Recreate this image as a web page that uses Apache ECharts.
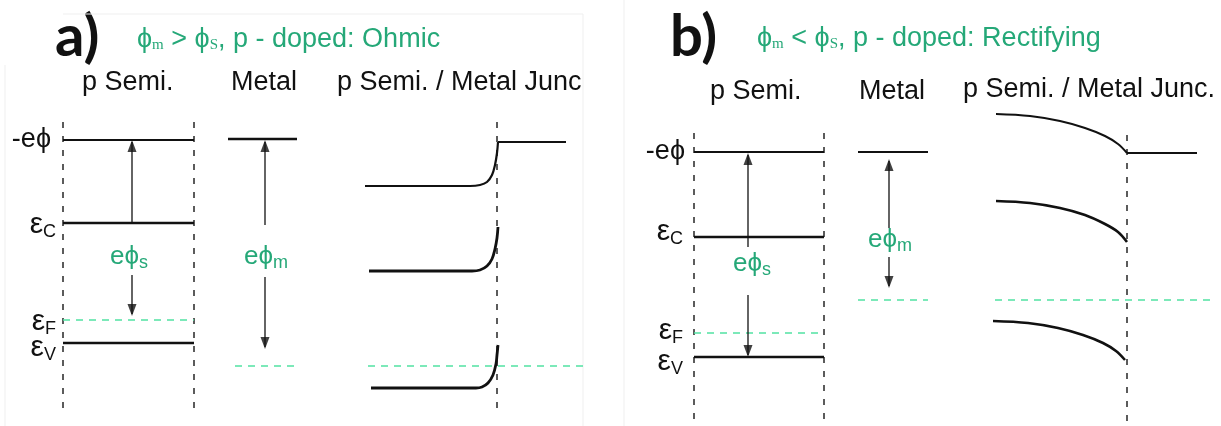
<!DOCTYPE html>
<html>
<head>
<meta charset="utf-8">
<script src="https://cdn.jsdelivr.net/npm/echarts@6/dist/echarts.min.js"></script>
<style>
  html, body { margin: 0; padding: 0; background: #fff; }
  #c { width: 1221px; height: 426px; }
</style>
</head>
<body>
<div id="c"></div>
<script>
// Energy-band diagrams of a p-type semiconductor / metal contact.
// The plot area fills the canvas: x runs left to right, level positions run
// top to bottom (a higher energy has a smaller value on the inverted y axis).

// ---------- panel a: phi_m > phi_s, Ohmic ----------
const aSemiEdges   = [63, 194];
const aSemiVac     = 140;
const aSemiEc      = 223;
const aSemiEf      = 320;
const aSemiEv      = 343;
const aMetalEdges  = [228, 297];
const aMetalVac    = 139;
const aMetalEf     = 366;
const aJunction    = 497;
const aJuncVac     = [[365, 186], [470, 186], [480, 185], [487, 182], [492, 175], [495, 165], [497, 153], [498, 142]];
const aJuncVacMetal = [[498, 142], [566, 142]];
const aJuncEc      = [[369, 271], [472, 271], [480, 270], [487, 266], [492, 259], [495, 249], [497, 238], [498, 227]];
const aJuncEv      = [[371, 388], [476, 388], [482, 387], [488, 383], [493, 375], [496, 364], [497, 355], [498, 345]];
const aJuncEf      = [368, 583];
const aArrowSemi   = [132, 223, 140, 275, 316];   // x, up from, up tip, down from, down tip
const aArrowMetal  = [265, 225, 140, 277, 349];

// ---------- panel b: phi_m < phi_s, Rectifying ----------
const bSemiEdges   = [694, 824];
const bSemiVac     = 152;
const bSemiEc      = 237;
const bSemiEf      = 333;
const bSemiEv      = 357;
const bMetalEdges  = [858, 928];
const bMetalVac    = 152;
const bMetalEf     = 300;
const bJunction    = 1127;
const bJuncVac     = [[996, 114], [1030, 116], [1060, 121], [1085, 128], [1105, 136], [1118, 144], [1127, 153]];
const bJuncVacMetal = [[1127, 153], [1197, 153]];
const bJuncEc      = [[996, 201], [1030, 203], [1060, 208], [1085, 215], [1105, 224], [1118, 232], [1127, 242]];
const bJuncEv      = [[993, 321], [1028, 323], [1058, 328], [1083, 335], [1103, 343], [1116, 351], [1125, 360]];
const bJuncEf      = [995, 1212];
const bArrowSemi   = [748, 247, 153, 295, 357];
const bArrowMetal  = [889, 228, 159, 257, 288];

// faint outlines of the two figure boxes
const frameSegments = [
  [[5, 65], [5, 426]],
  [[63, 14], [583, 14]],
  [[583, 14], [583, 426]],
  [[624, 0], [624, 426]]
];

const INK = '#111111';
const TEXT_GREEN = '#25a878';
const FERMI_GREEN = '#52e2a2';
const DASH_INK = '#333333';

const series = [];
function seg(points, lineStyle, extra) {
  series.push(Object.assign({
    type: 'line', data: points, symbol: 'none', showSymbol: false,
    silent: true, animation: false, clip: false, lineStyle: lineStyle
  }, extra || {}));
}
const solid = w => ({ color: INK, width: w });
const fermi = () => ({ color: FERMI_GREEN, width: 1.6, type: [7, 6] });
const boundary = () => ({ color: DASH_INK, width: 1.6, type: [6, 8] });
const bend = { smooth: 0.35 };

frameSegments.forEach(s => seg(s, { color: '#efefef', width: 1 }));

function flat(edges, y, style) { seg([[edges[0], y], [edges[1], y]], style); }
function vdash(x, y0, y1) { seg([[x, y0], [x, y1]], boundary()); }

// panel a
vdash(aSemiEdges[0], 122, 412);
vdash(aSemiEdges[1], 122, 412);
flat(aSemiEdges, aSemiVac, solid(1.8));
flat(aSemiEdges, aSemiEc, solid(2.6));
flat(aSemiEdges, aSemiEf, fermi());
flat(aSemiEdges, aSemiEv, solid(2.6));
flat(aMetalEdges, aMetalVac, solid(2.4));
flat([aMetalEdges[0] + 7, aMetalEdges[1] + 3], aMetalEf, fermi());
vdash(aJunction, 122, 413);
seg(aJuncVac, solid(2.2), bend);
seg(aJuncVacMetal, solid(2));
seg(aJuncEc, solid(2.8), bend);
seg(aJuncEv, solid(2.8), bend);
flat(aJuncEf, aMetalEf, fermi());

// panel b
vdash(bSemiEdges[0], 133, 426);
vdash(bSemiEdges[1], 133, 426);
flat(bSemiEdges, bSemiVac, solid(1.8));
flat(bSemiEdges, bSemiEc, solid(2.6));
flat(bSemiEdges, bSemiEf, fermi());
flat(bSemiEdges, bSemiEv, solid(2.6));
flat(bMetalEdges, bMetalVac, solid(2.2));
flat(bMetalEdges, bMetalEf, fermi());
vdash(bJunction, 135, 426);
seg(bJuncVac, solid(2), bend);
seg(bJuncVacMetal, solid(1.8));
seg(bJuncEc, solid(2.6), bend);
seg(bJuncEv, solid(2.6), bend);
flat(bJuncEf, bMetalEf, fermi());

// double-headed work-function arrows, split around their labels
const HEAD_W = 9, HEAD_L = 12;
const heads = [];
function workArrow(a) {
  const [x, upFrom, upTip, downFrom, downTip] = a;
  seg([[x, upFrom], [x, upTip + 2]], solid(1.3));
  seg([[x, downFrom], [x, downTip - 2]], solid(1.3));
  heads.push({ value: [x, upTip + HEAD_L / 2], symbolRotate: 0 });
  heads.push({ value: [x, downTip - HEAD_L / 2], symbolRotate: 180 });
}
[aArrowSemi, aArrowMetal, bArrowSemi, bArrowMetal].forEach(workArrow);
series.push({
  type: 'scatter', data: heads, symbol: 'triangle', symbolSize: [HEAD_W, HEAD_L],
  itemStyle: { color: INK }, silent: true, animation: false, z: 5
});

// ---------- text ----------
const SANS = '"Liberation Sans", Arial, sans-serif';
const SERIF = '"Liberation Serif", "Times New Roman", serif';
const PHI = '\u03D5';

function txt(x, y, text, style) {
  return {
    type: 'text', x: x, y: y, silent: true,
    style: Object.assign({
      text: text, fill: INK, font: '27px ' + SANS,
      align: 'left', verticalAlign: 'middle'
    }, style || {})
  };
}
const epsRich = {
  e: { fontSize: 30, fontFamily: SANS, fill: INK },
  s: { fontSize: 18, fontFamily: SANS, fill: INK, padding: [14, 0, 0, 0] }
};
const ephiRich = {
  e: { fontSize: 26, fontFamily: SANS, fill: TEXT_GREEN },
  s: { fontSize: 18, fontFamily: SANS, fill: TEXT_GREEN, padding: [12, 0, 0, 0] }
};
const titleRich = {
  t: { fontSize: 27, fontFamily: SANS, fill: TEXT_GREEN },
  s: { fontSize: 15, fontFamily: SERIF, fill: TEXT_GREEN, padding: [11, 0, 0, 0] }
};

const graphics = [
  // panel a
  txt(55, 37, 'a)', { font: 'bold 58px Lato, sans-serif' }),
  txt(137, 40, '{t|' + PHI + '}{s|m}{t| > ' + PHI + '}{s|S}{t|, p - doped: Ohmic}', { rich: titleRich }),
  txt(82, 83, 'p Semi.'),
  txt(231, 83, 'Metal'),
  txt(337, 83, 'p Semi. / Metal Junc'),
  txt(51, aSemiVac, '-e' + PHI, { align: 'right' }),
  txt(56, aSemiEc + 2, '{e|ε}{s|C}', { align: 'right', rich: epsRich }),
  txt(56, aSemiEf + 2, '{e|ε}{s|F}', { align: 'right', rich: epsRich }),
  txt(56, aSemiEv + 5, '{e|ε}{s|V}', { align: 'right', rich: epsRich }),
  txt(129, 257, '{e|e' + PHI + '}{s|s}', { align: 'center', rich: ephiRich }),
  txt(266, 257, '{e|e' + PHI + '}{s|m}', { align: 'center', rich: ephiRich }),
  // panel b
  txt(670, 37, 'b)', { font: 'bold 58px Lato, sans-serif' }),
  txt(757, 39, '{t|' + PHI + '}{s|m}{t| < ' + PHI + '}{s|S}{t|, p - doped: Rectifying}', { rich: titleRich }),
  txt(710, 92, 'p Semi.'),
  txt(859, 92, 'Metal'),
  txt(963, 90, 'p Semi. / Metal Junc.'),
  txt(685, bSemiVac, '-e' + PHI, { align: 'right' }),
  txt(683, bSemiEc - 5, '{e|ε}{s|C}', { align: 'right', rich: epsRich }),
  txt(683, bSemiEf - 2, '{e|ε}{s|F}', { align: 'right', rich: epsRich }),
  txt(683, bSemiEv + 5, '{e|ε}{s|V}', { align: 'right', rich: epsRich }),
  txt(752, 264, '{e|e' + PHI + '}{s|s}', { align: 'center', rich: ephiRich }),
  txt(890, 240, '{e|e' + PHI + '}{s|m}', { align: 'center', rich: ephiRich })
];

const chart = echarts.init(document.getElementById('c'), null, { renderer: 'canvas' });
chart.setOption({
  animation: false,
  backgroundColor: '#ffffff',
  grid: { left: 0, right: 0, top: 0, bottom: 0 },
  xAxis: { type: 'value', min: 0, max: 1221, show: false },
  yAxis: { type: 'value', min: 0, max: 426, inverse: true, show: false },
  series: series,
  graphic: graphics
});
</script>
</body>
</html>
